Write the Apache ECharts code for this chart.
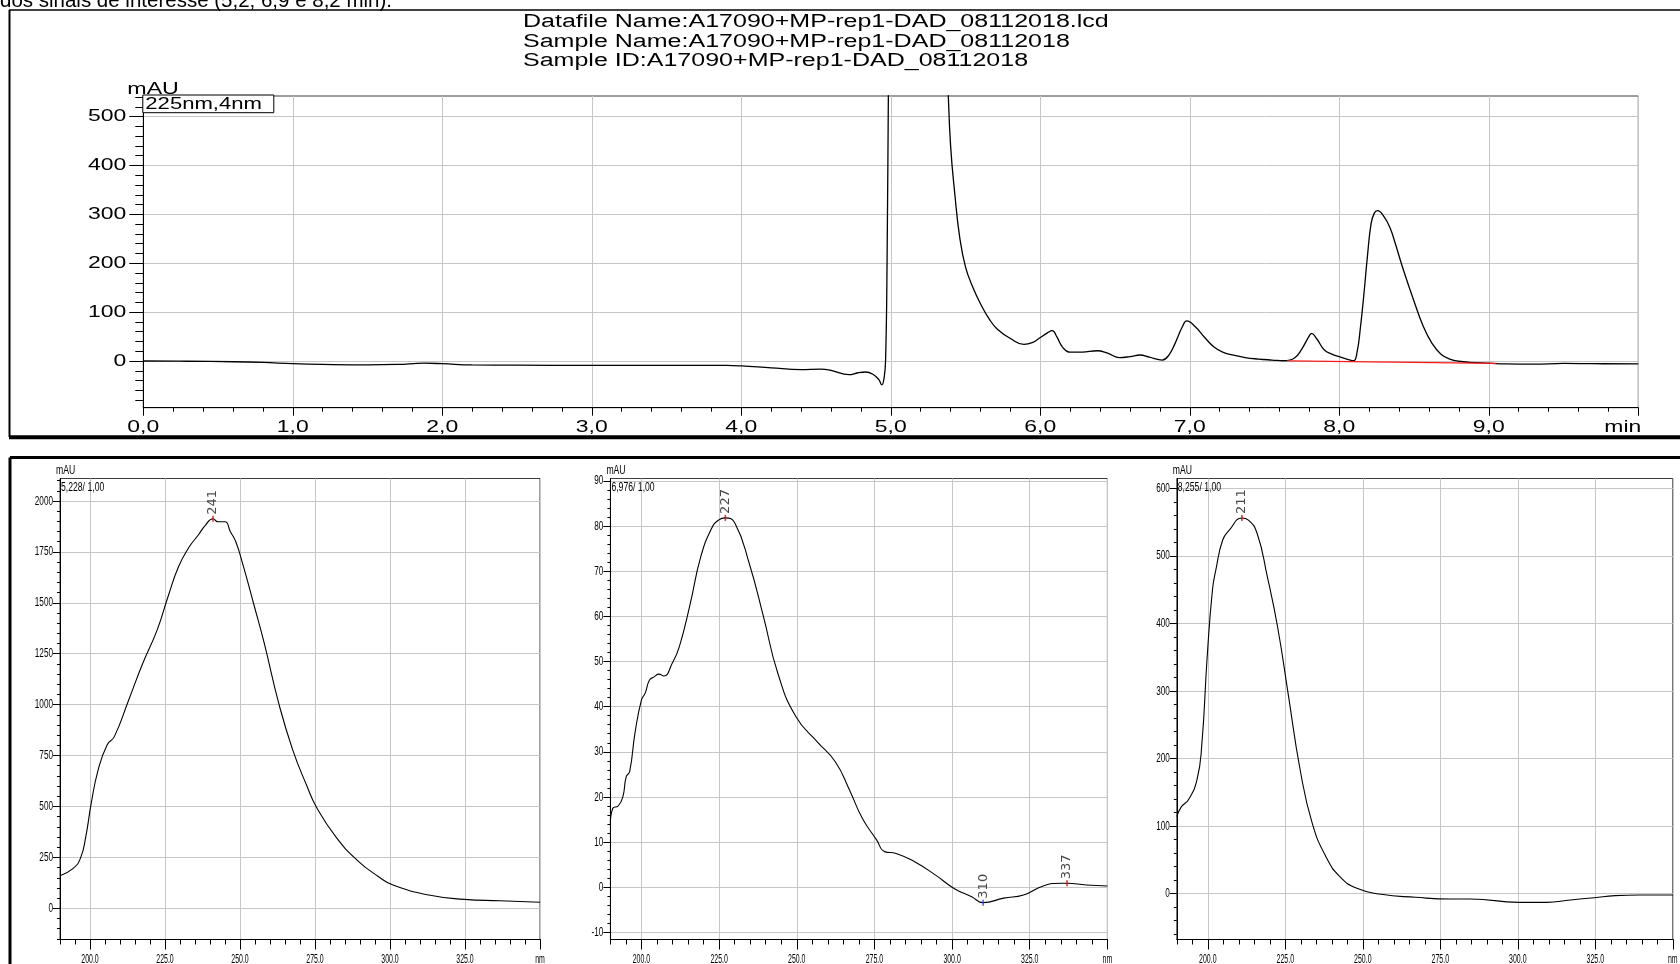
<!DOCTYPE html>
<html>
<head>
<meta charset="utf-8">
<script src="https://cdn.jsdelivr.net/npm/echarts@6/dist/echarts.min.js"></script>
<style>
  html, body { margin: 0; padding: 0; background: #fff; }
  #main { width: 1680px; height: 964px; }
</style>
</head>
<body>
<div id="main"></div>
<script>
// ---- Chromatogram, 225 nm (retention time in min, absorbance in mAU) ----
const chromTime = [0, 0.3, 0.6, 0.8, 1.0, 1.2, 1.5, 1.7, 1.88, 2.0, 2.2, 2.5, 3.0, 3.5, 3.9, 4.0, 4.2, 4.4, 4.53, 4.6,
  4.72, 4.78, 4.83, 4.88, 4.92, 4.94, 4.955, 4.965, 4.975, 4.985, 5.0, 5.05, 5.1, 5.2, 5.25, 5.3, 5.35, 5.38, 5.40, 5.43,
  5.46, 5.5, 5.55, 5.61, 5.66, 5.713, 5.8, 5.89, 5.95, 5.99, 6.05, 6.08, 6.11, 6.15, 6.2, 6.28, 6.38, 6.45, 6.53, 6.6,
  6.667, 6.73, 6.816, 6.86, 6.9, 6.95, 6.98, 7.037, 7.1, 7.16, 7.22, 7.285, 7.37, 7.46, 7.55, 7.63, 7.7, 7.75, 7.8, 7.815,
  7.85, 7.9, 7.95, 8.0, 8.06, 8.096, 8.12, 8.14, 8.163, 8.19, 8.213, 8.235, 8.255, 8.3, 8.34, 8.374, 8.43, 8.497, 8.56, 8.62,
  8.68, 8.745, 8.8, 8.87, 9.0, 9.115, 9.3, 9.5, 9.7, 10.0];
const chromMAU = [0, -0.5, -1.5, -3, -5.5, -7, -8, -7, -4.5, -5.5, -8, -8.5, -9, -9, -9, -10, -14, -17.5, -16.5, -19,
  -28, -24, -22.5, -27, -38, -49, -35, 0, 200, 600, 1100, 1450, 1560, 1600, 1550, 1250, 800, 580, 440, 336,
  255, 192, 150, 111, 85, 65, 46, 34, 38, 46, 58, 62, 50, 28, 18, 18, 21, 16, 7, 9,
  12.3, 8, 2, 12, 35, 70, 82, 70, 48, 29, 18, 12.3, 7, 4, 2, 0.5, 6, 25, 52, 56.6,
  45, 22.5, 14, 8.8, 3, 0.5, 20, 65, 131.5, 220, 281.6, 303, 307.4, 295, 272, 240.7, 185, 124.7, 72, 36.2,
  14, 3.4, -0.5, -2.7, -4.5, -6, -6.5, -5, -5.5, -6];

// Integration baseline drawn under the 7.8 / 8.25 min peaks
const baselineTime = [7.65, 9.05];
const baselineMAU = [0.3, -4.7];

const chromXTicks = [0, 1, 2, 3, 4, 5, 6, 7, 8, 9];
const chromYTicks = [0, 100, 200, 300, 400, 500];
const chromTitleLines = [
  'Datafile Name:A17090+MP-rep1-DAD_08112018.lcd',
  'Sample Name:A17090+MP-rep1-DAD_08112018',
  'Sample ID:A17090+MP-rep1-DAD_08112018'
];
const chromChannel = '225nm,4nm';
const captionText = 'dos sinais de interesse (5,2; 6,9 e 8,2 min).';

// ---- UV spectra taken at the apex of the three peaks (nm, mAU) ----
const spec1Nm = [190, 194.4, 196.8, 198.6, 200.4, 202.7, 205.7, 208.1, 212.9, 217.6, 222.4, 226, 229.5, 233.1, 236.1, 238.5,
  241, 242.6, 245, 246.8, 248.6, 251, 254.5, 258.1, 262.9, 267.6, 272.4, 275.4, 281.9, 289, 296.2, 301, 312.9, 324.8, 336.7, 350];
const spec1MAU = [160, 196, 245, 352, 515, 679, 802, 843, 1023, 1203, 1367, 1530, 1677, 1775, 1833, 1882,
  1913, 1898, 1898, 1849, 1800, 1686, 1498, 1301, 1007, 777, 597, 499, 352, 237, 155, 114, 65, 44, 37, 30];

const spec2Nm = [190, 190.8, 192.5, 194, 195.1, 196.2, 197.9, 200, 201.2, 202.6, 204.1, 205.6, 207.2, 209.9, 212.2, 215.6,
  219.1, 222.6, 224.8, 227, 230.1, 234.7, 239.3, 243.9, 249.7, 256.6, 262.4, 267, 271.1, 275.7, 278.3, 282, 287.8, 294.7,
  300.5, 306.3, 310, 316.6, 323, 329.3, 335.1, 337, 343.2, 350];
const spec2MAU = [14.2, 17.5, 18, 20, 24.5, 25.6, 34.1, 41.5, 43, 45.9, 46.6, 47.2, 46.8, 49.6, 53.3, 62.5,
  73.2, 79.5, 81.3, 81.8, 80.6, 71.7, 59.9, 47.4, 37.8, 32.2, 27.8, 21.5, 15.3, 10.5, 7.9, 7.5, 5.7, 2.7,
  -0.2, -2.1, -3.4, -2.4, -1.7, 0.3, 0.9, 0.9, 0.5, 0.3];

const spec3Nm = [190, 191.5, 193.7, 196.5, 198.1, 199.8, 201.5, 202.6, 204.8, 207, 211, 213.1, 215.9, 219.2, 222.5, 225.9,
  229.8, 233.7, 238.1, 242.6, 248.1, 255.9, 267, 278.1, 284.8, 300.3, 309.2, 317, 324.7, 331.4, 339.2, 350];
const spec3MAU = [114, 128.8, 138.7, 168.3, 222.6, 350.7, 449.5, 479.1, 523.5, 538.3, 556, 553, 533.4, 469.1, 395.1, 296.6,
  183.1, 104.2, 54.8, 25.2, 8, -0.9, -5.3, -7.8, -7.8, -12.8, -12.8, -9.3, -5.9, -2.9, -1.9, -1.9];

// Detected maxima / minima in each spectrum
const spec1PeakNm = [241];
const spec1PeakMAU = [1913];
const spec1PeakKind = ['max'];
const spec2PeakNm = [227, 310, 337];
const spec2PeakMAU = [81.8, -3.4, 0.9];
const spec2PeakKind = ['max', 'min', 'max'];
const spec3PeakNm = [211];
const spec3PeakMAU = [556];
const spec3PeakKind = ['max'];

const specRetention = ['5,228', '6,976', '8,255'];
const specBandwidth = '1,00';
const specXTicks = [200, 225, 250, 275, 300, 325, 350];
const spec1YTicks = [0, 250, 500, 750, 1000, 1250, 1500, 1750, 2000];
const spec2YTicks = [-10, 0, 10, 20, 30, 40, 50, 60, 70, 80, 90];
const spec3YTicks = [0, 100, 200, 300, 400, 500, 600];

// ---- layout & style ----
const FONT = "'Liberation Sans', Arial, sans-serif";
const GRID_LINE = '#c6c6c6';
const FRAME = '#3c3c3c';

function range(a, b, step) { const out = []; for (let v = a; v <= b + 1e-9; v += step) out.push(+v.toFixed(6)); return out; }

const chromY = { min: -95.5, max: 542, minor: range(-80, 540, 20) };
const panels = [
  { left: 60, width: 480, yMin: -153.2, yMax: 2110.5, yTicks: spec1YTicks, yMinor: range(-150, 2100, 50), nm: spec1Nm, mau: spec1MAU,
    pk: spec1PeakNm, pkv: spec1PeakMAU, pkk: spec1PeakKind },
  { left: 610.4, width: 497, yMin: -11.56, yMax: 90.52, yTicks: spec2YTicks, yMinor: range(-10, 90, 2), nm: spec2Nm, mau: spec2MAU,
    pk: spec2PeakNm, pkv: spec2PeakMAU, pkk: spec2PeakKind },
  { left: 1176.8, width: 496, yMin: -67.8, yMax: 614.5, yTicks: spec3YTicks, yMinor: range(-60, 600, 20), nm: spec3Nm, mau: spec3MAU,
    pk: spec3PeakNm, pkv: spec3PeakMAU, pkk: spec3PeakKind }
];
const PANEL_TOP = 478.5, PANEL_H = 461;

const blackLine = { color: '#000', width: 1 };

const grids = [{ left: 143.3, top: 96, width: 1495, height: 311.7, show: true, borderColor: FRAME, borderWidth: 1, backgroundColor: 'transparent' }];
panels.forEach(p => grids.push({ left: p.left, top: PANEL_TOP, width: p.width, height: PANEL_H, show: true,
  borderColor: FRAME, borderWidth: 1, backgroundColor: 'transparent' }));

const xAxes = [{
  gridIndex: 0, type: 'value', position: 'bottom', min: 0, max: 10, interval: 1,
  axisLine: { onZero: false, lineStyle: blackLine },
  axisTick: { length: 8, lineStyle: blackLine },
  minorTick: { show: true, splitNumber: 5, length: 4, lineStyle: blackLine },
  splitLine: { show: true, lineStyle: { color: GRID_LINE, width: 1 } },
  axisLabel: { show: false }
}];
const yAxes = [{
  gridIndex: 0, type: 'value', position: 'left', min: chromY.min, max: chromY.max,
  axisLine: { show: true, onZero: false, lineStyle: blackLine },
  axisTick: { show: true, length: 14, customValues: chromYTicks, lineStyle: blackLine },
  splitLine: { show: true, lineStyle: { color: GRID_LINE, width: 1 } },
  axisLabel: { show: false, customValues: chromYTicks }
}, {
  gridIndex: 0, type: 'value', position: 'left', min: chromY.min, max: chromY.max,
  axisLine: { show: false, onZero: false },
  axisTick: { show: true, length: 8, customValues: chromY.minor, lineStyle: blackLine },
  splitLine: { show: false }, axisLabel: { show: false }
}];

panels.forEach((p, i) => {
  const g = i + 1;
  p.xIdx = xAxes.length;
  xAxes.push({
    gridIndex: g, type: 'value', position: 'bottom', min: 190, max: 350,
    axisLine: { onZero: false, lineStyle: blackLine },
    axisTick: { length: 10, customValues: specXTicks, lineStyle: blackLine },
    splitLine: { show: true, lineStyle: { color: GRID_LINE, width: 1 } },
    axisLabel: { show: false, customValues: specXTicks }
  }, {
    gridIndex: g, type: 'value', position: 'bottom', min: 190, max: 350, interval: 5,
    axisLine: { show: false, onZero: false },
    axisTick: { length: 5, lineStyle: blackLine },
    splitLine: { show: false }, axisLabel: { show: false }
  });
  p.yIdx = yAxes.length;
  yAxes.push({
    gridIndex: g, type: 'value', position: 'left', min: p.yMin, max: p.yMax,
    axisLine: { show: true, onZero: false, lineStyle: blackLine },
    axisTick: { show: true, length: 7, customValues: p.yTicks, lineStyle: blackLine },
    splitLine: { show: true, lineStyle: { color: GRID_LINE, width: 1 } },
    axisLabel: { show: false, customValues: p.yTicks }
  }, {
    gridIndex: g, type: 'value', position: 'left', min: p.yMin, max: p.yMax,
    axisLine: { show: false, onZero: false },
    axisTick: { show: true, length: 3, customValues: p.yMinor, lineStyle: blackLine },
    splitLine: { show: false }, axisLabel: { show: false }
  });
});

const series = [{
  type: 'line', xAxisIndex: 0, yAxisIndex: 0, silent: true, clip: true, z: 3,
  data: chromTime.map((t, i) => [t, chromMAU[i]]),
  symbol: 'none', smooth: 0.45,
  lineStyle: { color: '#000', width: 1.3 }
}, {
  type: 'line', xAxisIndex: 0, yAxisIndex: 0, silent: true, z: 4,
  data: baselineTime.map((t, i) => [t, baselineMAU[i]]),
  symbol: 'none', lineStyle: { color: '#ff1a1a', width: 1.3 }
}];

panels.forEach(p => {
  series.push({
    type: 'line', xAxisIndex: p.xIdx, yAxisIndex: p.yIdx, silent: true, clip: true, z: 3,
    data: p.nm.map((x, i) => [x, p.mau[i]]),
    symbol: 'none', smooth: 0.5,
    lineStyle: { color: '#000', width: 1.1 }
  }, {
    type: 'scatter', xAxisIndex: p.xIdx, yAxisIndex: p.yIdx, silent: true, z: 5,
    symbol: 'rect', symbolSize: [1.6, 6],
    data: p.pk.map((x, i) => ({ value: [x, p.pkv[i]], itemStyle: { color: p.pkk[i] === 'max' ? '#e00000' : '#2a3cff' } })),
    label: {
      show: true, position: 'top', distance: 1, rotate: 90, align: 'left', verticalAlign: 'middle',
      formatter: d => String(d.value[0]), fontSize: 13, fontFamily: "'DejaVu Sans', sans-serif", color: '#1a1a1a'
    }
  });
});

const chart = echarts.init(document.getElementById('main'), null, { renderer: 'canvas' });
chart.setOption({
  animation: false,
  backgroundColor: '#fff',
  grid: grids, xAxis: xAxes, yAxis: yAxes, series: series
});

// ---- text & frames placed from the axes' own pixel mapping ----
const gfx = [];
function text(x, y, str, size, sx, align, valign, extra) {
  gfx.push(Object.assign({
    type: 'text', x: x, y: y, scaleX: sx, z: 100, silent: true,
    style: { text: str, fontSize: size, fontFamily: FONT, fill: '#000', align: align, verticalAlign: valign }
  }, extra || {}));
}
function line(x1, y1, x2, y2, w) {
  gfx.push({ type: 'line', z: 100, silent: true, shape: { x1, y1, x2, y2 }, style: { stroke: '#000', lineWidth: w } });
}
const toX = (i, v) => chart.convertToPixel({ xAxisIndex: i }, v);
const toY = (i, v) => chart.convertToPixel({ yAxisIndex: i }, v);

// outer frames of the two blocks
line(9, 10, 1690, 10, 1.5);
line(9.5, 10, 9.5, 437, 2);
line(9, 437.2, 1690, 437.2, 4);
line(10, 457.5, 1690, 457.5, 3);
line(10, 457.5, 10, 970, 3);

// caption line partly above the page edge
text(0, 1, captionText, 20.5, 1, 'left', 'middle');

// chromatogram header
chromTitleLines.forEach((s, i) => text(523, 22.5 + i * 19.2, s, 18, 1.39, 'left', 'middle'));

const cxL = toX(0, 0), cxR = toX(0, 10), cyB = toY(0, chromY.min), cyT = toY(0, chromY.max);
chromXTicks.forEach(v => text(toX(0, v), cyB + 19.5, v.toFixed(1).replace('.', ','), 17, 1.35, 'center', 'middle'));
text(cxR + 3, cyB + 19.5, 'min', 17, 1.35, 'right', 'middle');
chromYTicks.forEach(v => text(cxL - 17, toY(0, v), String(v), 17, 1.35, 'right', 'middle'));
text(cxL - 16, cyT - 6, 'mAU', 16, 1.45, 'left', 'middle');
gfx.push({ type: 'rect', z: 99, silent: true, shape: { x: cxL - 0.5, y: cyT - 1, width: 131, height: 17.7 },
  style: { fill: '#fff', stroke: '#000', lineWidth: 1 } });
text(cxL + 2, cyT + 8, chromChannel, 17, 1.3, 'left', 'middle');

// spectrum panels
panels.forEach((p, i) => {
  const xL = toX(p.xIdx, 190), yB = toY(p.yIdx, p.yMin), yT = toY(p.yIdx, p.yMax);
  specXTicks.forEach(v => text(toX(p.xIdx, v), yB + 14, v === 350 ? 'nm' : v.toFixed(1), 12, 0.58, 'center', 'top'));
  p.yTicks.forEach(v => text(xL - 7, toY(p.yIdx, v), String(v), 13, 0.63, 'right', 'middle'));
  text(xL - 4, yT - 7.5, 'mAU', 12, 0.72, 'left', 'middle');
  text(xL + 1, yT + 9, specRetention[i] + '/ ' + specBandwidth, 12, 0.72, 'left', 'middle');
});

chart.setOption({ graphic: { elements: gfx } });
</script>
</body>
</html>
